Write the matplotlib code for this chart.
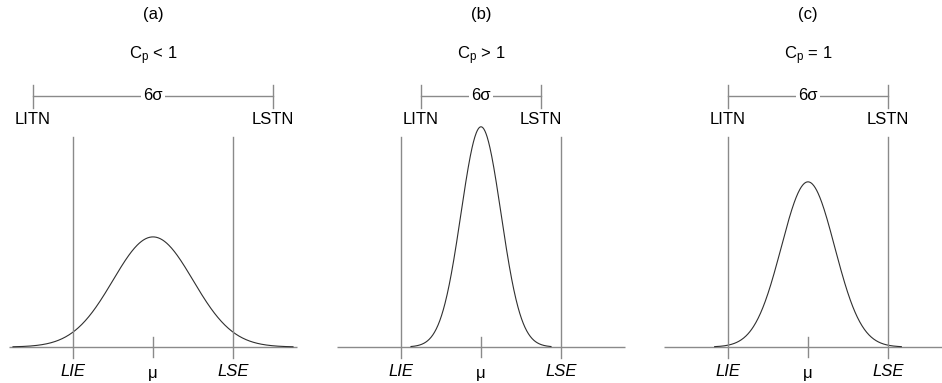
import numpy as np
import matplotlib
matplotlib.use("Agg")
import matplotlib.pyplot as plt

plt.rcParams['font.family'] = ['Liberation Sans', 'DejaVu Sans']

# Data (x in units of half the specification width; LIE=-1, LSE=+1, mu=0)
panel_labels = ["(a)", "(b)", "(c)"]
cp_labels = [r"$\mathregular{C_p}$ < 1", r"$\mathregular{C_p}$ > 1", r"$\mathregular{C_p}$ = 1"]
sigmas = [0.5, 0.25, 1/3]           # process standard deviation
mu = 0.0
lie, lse = -1.0, 1.0
spec_labels = ["LIE", "\u03bc", "LSE"]
tol_labels = ["LITN", "LSTN"]
# pixel centre (mu) of each panel, for layout only
mu_px = [153, 481, 808]

W, H = 942, 383
fig = plt.figure(figsize=(W/100, H/100), dpi=100)
px_per_x = 80.0
px_per_y = 138.0
base_px = 347.0

line_grey = "#8a8a8a"
curve_col = "#303030"

for i in range(3):
    left = i * W / 3
    right = (i + 1) * W / 3
    ax = fig.add_axes([left / W, 0, (right - left) / W, 1])
    ax.set_xlim((left - mu_px[i]) / px_per_x, (right - mu_px[i]) / px_per_x)
    ax.set_ylim(-(H - base_px) / px_per_y, base_px / px_per_y)
    ax.axis("off")
    s = sigmas[i]
    # baseline
    ax.plot([-1.8, 1.8], [0, 0], color=line_grey, lw=1.0, solid_capstyle="butt")
    # curve
    x = np.linspace(mu - 3.5 * s, mu + 3.5 * s, 400)
    y = np.exp(-0.5 * ((x - mu) / s) ** 2) / (s * np.sqrt(2 * np.pi))
    ax.plot(x, y, color=curve_col, lw=0.8)
    # spec limits
    for xv in (lie, lse):
        ax.plot([xv, xv], [-0.08, 1.52], color=line_grey, lw=1.0)
    ax.plot([mu, mu], [-0.075, 0.072], color=line_grey, lw=1.0)
    # bottom labels
    ylab = -(372 - base_px) / px_per_y
    ax.text(lie, ylab, spec_labels[0], ha="center", va="center", fontsize=12, style="italic")
    ax.text(mu, ylab - 0.01, spec_labels[1], ha="center", va="center", fontsize=12)
    ax.text(lse, ylab, spec_labels[2], ha="center", va="center", fontsize=12, style="italic")
    # 6 sigma bracket
    lt, ut = mu - 3 * s, mu + 3 * s
    yb = (base_px - 96) / px_per_y
    ax.plot([lt, ut], [yb, yb], color=line_grey, lw=1.0)
    for xv in (lt, ut):
        ax.plot([xv, xv], [(base_px - 108) / px_per_y, (base_px - 85) / px_per_y], color=line_grey, lw=1.0)
    ax.text(mu, yb, "6\u03c3", ha="center", va="center", fontsize=12,
            bbox=dict(facecolor="white", edgecolor="none", pad=1.5))
    ytl = (base_px - 119) / px_per_y
    ax.text(lt, ytl, tol_labels[0], ha="center", va="center", fontsize=12)
    ax.text(ut, ytl, tol_labels[1], ha="center", va="center", fontsize=12)
    # titles
    ax.text(mu, (base_px - 15) / px_per_y, panel_labels[i], ha="center", va="center", fontsize=12)
    ax.text(mu, (base_px - 56) / px_per_y, cp_labels[i], ha="center", va="center", fontsize=12)

fig.savefig("out.png", dpi=100)
